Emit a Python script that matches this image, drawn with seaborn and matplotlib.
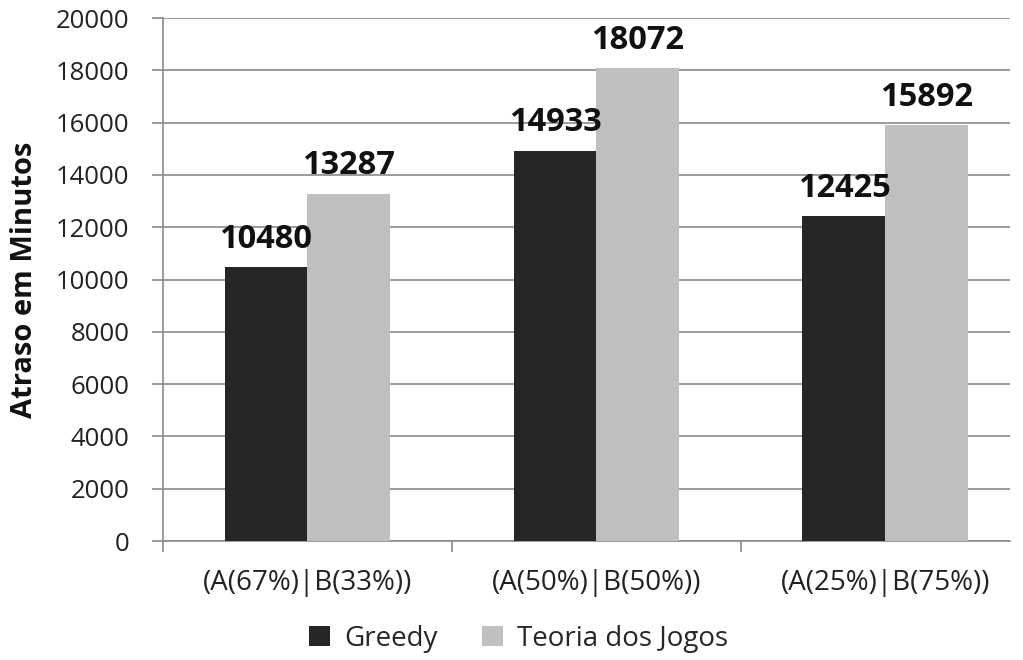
import matplotlib
matplotlib.use("Agg")
import matplotlib.pyplot as plt
import seaborn as sns
import pandas as pd

# Delay (minutes) per traffic split scenario
categories = ["(A(67%)|B(33%))", "(A(50%)|B(50%))", "(A(25%)|B(75%))"]
series_names = ["Greedy", "Teoria dos Jogos"]
greedy = [10480, 14933, 12425]
teoria = [13287, 18072, 15892]
yticks = [0, 2000, 4000, 6000, 8000, 10000, 12000, 14000, 16000, 18000, 20000]

df = pd.DataFrame({
    "cenario": categories * 2,
    "serie": [series_names[0]] * 3 + [series_names[1]] * 3,
    "atraso": greedy + teoria,
})

sns.set_theme(style="white")
plt.rcParams["font.family"] = ["Open Sans", "DejaVu Sans"]

fig = plt.figure(figsize=(10.23, 6.6), dpi=100)
ax = fig.add_axes([0.1593, 0.1803, 0.8277, 0.7924])

palette = {"Greedy": "#262626", "Teoria dos Jogos": "#bfbfbf"}
sns.barplot(data=df, x="cenario", y="atraso", hue="serie", order=categories,
            hue_order=series_names, palette=palette, width=0.574, gap=0,
            saturation=1, ax=ax, zorder=3, linewidth=0)

# value labels above each bar
for cont in ax.containers:
    ax.bar_label(cont, labels=[f"{int(v)}" for v in cont.datavalues],
                 padding=8, fontsize=23.5, fontweight="bold", color="#111111")

ax.set_yticks(yticks)
ax.set_yticklabels([str(t) for t in yticks], fontsize=18.5, color="#222222")
ax.yaxis.grid(True, color="#8a8a8a", linewidth=1.2, zorder=0)
ax.set_axisbelow(True)

ax.set_xticks(range(len(categories)))
ax.set_xticklabels(categories, fontsize=20, color="#222222")
ax.tick_params(axis="x", length=0, pad=20)
ax.set_xticks([-0.5, 0.5, 1.5, 2.5], minor=True)
ax.tick_params(axis="x", which="minor", length=8, width=1.2, color="#8a8a8a",
               direction="out", bottom=True)
ax.tick_params(axis="y", length=8, width=1.2, color="#8a8a8a",
               direction="out", left=True, pad=16)

# limits set after the ticks so the view is not widened again
ax.set_ylim(0, 20000)
ax.set_xlim(-0.5, 2.43)

ax.set_xlabel("")
ax.set_ylabel("Atraso em Minutos", fontsize=21, fontweight="bold",
              color="#111111", labelpad=12)

for side in ["top", "right"]:
    ax.spines[side].set_visible(False)
for side in ["left", "bottom"]:
    ax.spines[side].set_color("#8a8a8a")
    ax.spines[side].set_linewidth(1.2)

sns.move_legend(ax, "center", bbox_to_anchor=(0.507, 0.032),
                bbox_transform=fig.transFigure, ncol=2, frameon=False,
                title=None, fontsize=20, handlelength=0.75, handleheight=0.75,
                handletextpad=0.5, columnspacing=1.6)

fig.savefig("out.png", dpi=100, facecolor="white")
